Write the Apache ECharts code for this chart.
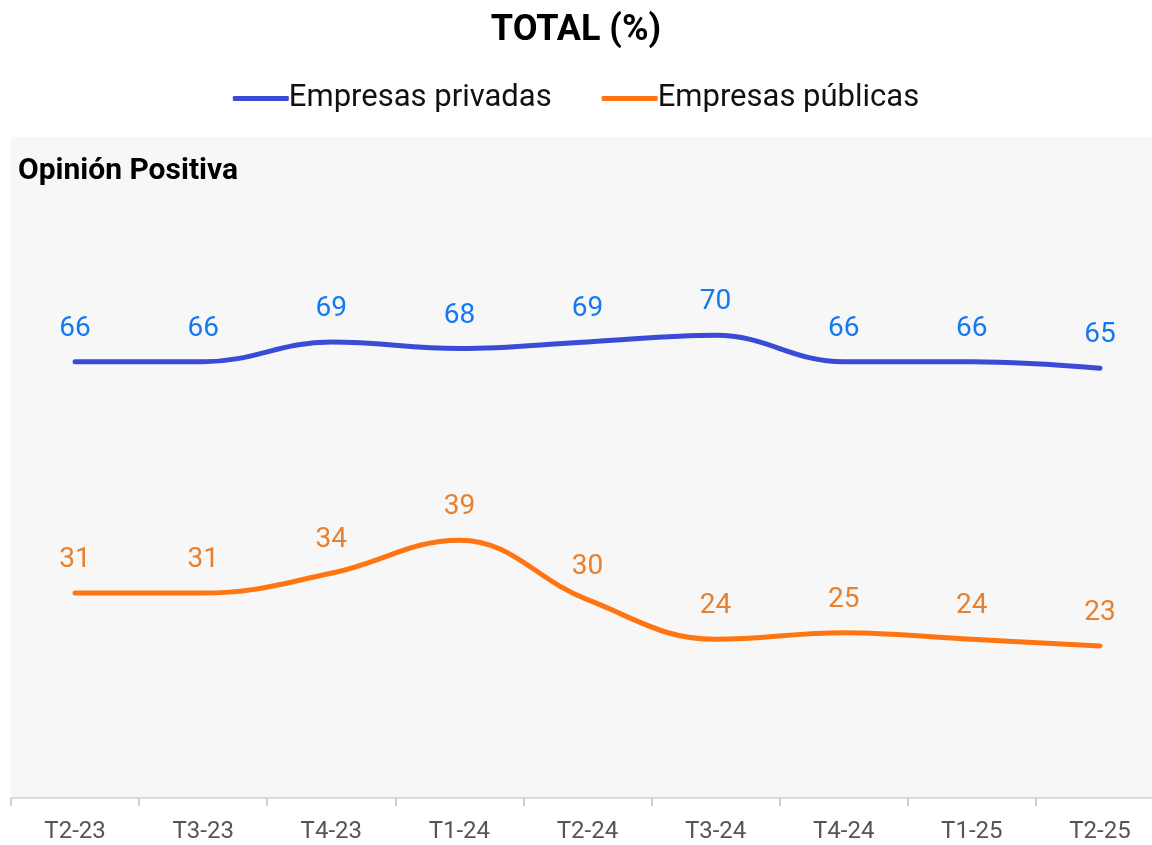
<!DOCTYPE html>
<html>
<head>
<meta charset="utf-8">
<title>TOTAL (%)</title>
<script src="https://cdn.jsdelivr.net/npm/echarts@6/dist/echarts.min.js"></script>
<style>
  html, body { margin: 0; padding: 0; background: #fff; }
  #chart { width: 1152px; height: 845px; }
</style>
</head>
<body>
<div id="chart"></div>
<script>
const categories = ['T2-23', 'T3-23', 'T4-23', 'T1-24', 'T2-24', 'T3-24', 'T4-24', 'T1-25', 'T2-25']
const privadas = [66, 66, 69, 68, 69, 70, 66, 66, 65]
const publicas = [31, 31, 34, 39, 30, 24, 25, 24, 23]

const font = 'Roboto'
const chart = echarts.init(document.getElementById('chart'))

chart.setOption({
  animation: false,
  textStyle: { fontFamily: font },
  title: {
    text: 'TOTAL (%)',
    left: 'center',
    top: 8,
    textStyle: { fontSize: 36, fontWeight: 'bold', color: '#000', fontFamily: font }
  },
  legend: {
    top: 78,
    left: 'center',
    itemWidth: 56,
    itemHeight: 5,
    itemGap: 50,
    icon: 'roundRect',
    textStyle: { fontSize: 31, color: '#111', padding: [0, 0, 0, -5] },
    data: ['Empresas privadas', 'Empresas públicas']
  },
  graphic: [{
    type: 'text',
    left: 18,
    top: 156,
    style: { text: 'Opinión Positiva', fontSize: 30, fontWeight: 'bold', fill: '#000', fontFamily: font }
  }],
  grid: {
    left: 11,
    top: 137,
    width: 1153,
    bottom: 47,
    outerBoundsMode: 'none',
    containLabel: false,
    show: true,
    backgroundColor: '#f7f7f7',
    borderWidth: 0
  },
  xAxis: {
    type: 'category',
    data: categories,
    boundaryGap: true,
    axisLine: { lineStyle: { color: '#dcdcdc', width: 2 } },
    axisTick: { show: true, length: 8, lineStyle: { color: '#cfcfcf', width: 2 } },
    axisLabel: { fontSize: 24, color: '#555', margin: 22 }
  },
  yAxis: {
    type: 'value',
    min: 0,
    max: 100,
    show: false,
    splitLine: { show: false }
  },
  series: [
    {
      name: 'Empresas privadas',
      type: 'line',
      data: privadas,
      smooth: 0.4,
      symbol: 'circle',
      symbolSize: 0,
      showSymbol: true,
      lineStyle: { color: '#3a4bd8', width: 5, cap: 'round' },
      itemStyle: { color: '#3a4bd8' },
      label: { show: true, position: 'top', distance: 19, fontSize: 28, color: '#1479f0' }
    },
    {
      name: 'Empresas públicas',
      type: 'line',
      data: publicas,
      smooth: 0.4,
      symbol: 'circle',
      symbolSize: 0,
      showSymbol: true,
      lineStyle: { color: '#ff7512', width: 5, cap: 'round' },
      itemStyle: { color: '#ff7512' },
      label: { show: true, position: 'top', distance: 19, fontSize: 28, color: '#e8802e' }
    }
  ]
})
</script>
</body>
</html>
